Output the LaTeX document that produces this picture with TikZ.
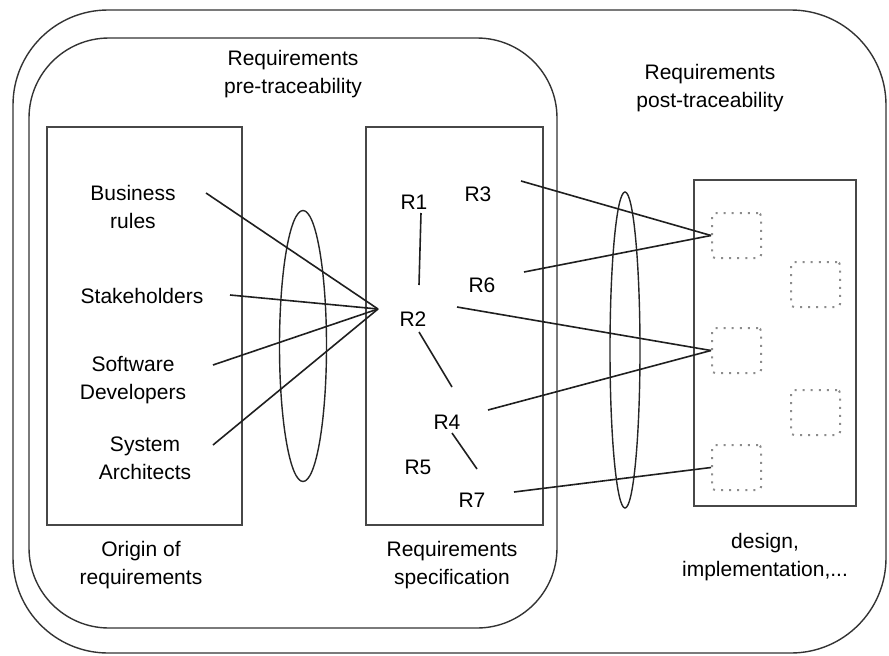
\documentclass[tikz,border=0pt]{standalone}
\usepackage{fontspec}
\setmainfont{Liberation Sans}
\usetikzlibrary{shapes.geometric}
\begin{document}
\begin{tikzpicture}[x=1pt,y=-1pt,
  frame/.style={draw=black!80, line width=1.4pt},
  boxed/.style={draw=black!72, line width=1.8pt, inner sep=0pt, outer sep=0pt},
  link/.style={draw=black!88, line width=1.6pt},
  lbl/.style={align=center, inner sep=0pt, font=\fontsize{21}{28}\selectfont},
  lens/.style={ellipse, draw=black!85, line width=1.4pt, inner sep=0pt},
  artefact/.style={draw=black!45, line width=2pt, dash pattern=on 2pt off 6.1pt, rounded corners=3pt, minimum width=49pt, minimum height=45pt, inner sep=0pt}]
\useasboundingbox (0,0) rectangle (889,656);
% containers
\draw[frame, rounded corners=95pt] (13,10) rectangle (886,653);
\draw[frame, rounded corners=80pt] (29,38) rectangle (557,628);
\node[boxed, minimum width=195pt, minimum height=398pt] (orig) at (144.5,326) {};
\node[boxed, minimum width=177pt, minimum height=398pt] (spec) at (454.5,326) {};
\node[boxed, minimum width=162pt, minimum height=326pt] (impl) at (775,343) {};
% lenses
\node[lens, minimum width=47pt, minimum height=271pt] (prelens) at (303,346) {};
\node[lens, minimum width=30pt, minimum height=316pt] (postlens) at (625,350) {};
% artefacts
\node[artefact] (sq1) at (736.5,235.5) {};
\node[artefact] (sq2) at (815.5,284.5) {};
\node[artefact] (sq3) at (736.5,350.5) {};
\node[artefact] (sq4) at (815.5,412.5) {};
\node[artefact] (sq5) at (736.5,467.5) {};
% titles
\node[lbl] (pretitle) at (293,74) {Requirements\\pre-traceability};
\node[lbl] (posttitle) at (710,88) {Requirements\\post-traceability};
\node[lbl] (origlbl) at (141,565) {Origin of\\requirements};
\node[lbl] (speclbl) at (452,565) {Requirements\\specification};
\node[lbl] (impllbl) at (765,557) {design,\\implementation,...};
% sources
\node[lbl] (bus) at (133,207) {Business\\rules};
\node[lbl] (stk) at (142,296) {Stakeholders};
\node[lbl] (sw) at (133,380) {Software\\Developers};
\node[lbl] (sys) at (145,458) {System\\Architects};
% requirements
\node[lbl] (R1) at (414,202) {R1};
\node[lbl] (R3) at (478,194) {R3};
\node[lbl] (R6) at (482,285) {R6};
\node[lbl] (R2) at (413,319) {R2};
\node[lbl] (R4) at (447,422) {R4};
\node[lbl] (R5) at (418,467) {R5};
\node[lbl] (R7) at (472,500) {R7};
% connector end points
\coordinate (hub) at (378,309);
\coordinate (busE) at (206,193);
\coordinate (stkE) at (230,295);
\coordinate (swE) at (213,365);
\coordinate (sysE) at (213,445);
\coordinate (R1s) at (421,213);
\coordinate (R2n) at (419,285);
\coordinate (R2s) at (419,332);
\coordinate (R4n) at (452,387);
\coordinate (R4s) at (452,433);
\coordinate (R7n) at (477,469);
\coordinate (R3e) at (521,181);
\coordinate (R6e) at (524,272);
\coordinate (R2e) at (457,307);
\coordinate (R4e) at (488,410);
\coordinate (R7e) at (514,492);
% pre-traceability links
\draw[link] (busE) -- (hub);
\draw[link] (stkE) -- (hub);
\draw[link] (swE) -- (hub);
\draw[link] (sysE) -- (hub);
% internal links
\draw[link] (R1s) -- (R2n);
\draw[link] (R2s) -- (R4n);
\draw[link] (R4s) -- (R7n);
% post-traceability links
\draw[link] (R3e) -- (sq1.west);
\draw[link] (R6e) -- (sq1.west);
\draw[link] (R2e) -- (sq3.west);
\draw[link] (R4e) -- (sq3.west);
\draw[link] (R7e) -- (sq5.west);
\end{tikzpicture}
\end{document}
